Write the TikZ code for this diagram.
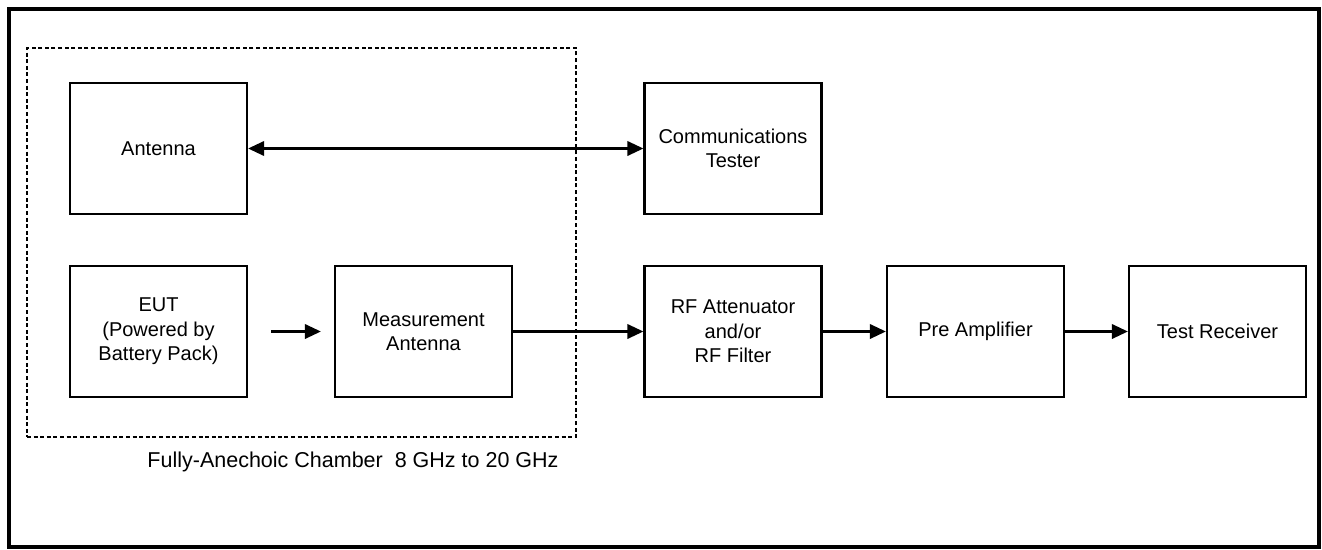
\documentclass[tikz,border=0pt]{standalone}
\usepackage{fontspec}
\setmainfont{Liberation Sans}
\usetikzlibrary{arrows.meta,positioning}
\begin{document}
\begin{tikzpicture}[x=1pt,y=-1pt,
  block/.style={draw=black,line width=2.3pt,minimum width=177pt,minimum height=131pt,
    inner sep=0pt,align=center,font=\fontsize{20}{24.5}\selectfont},
  tip/.tip={Triangle[length=16pt,width=14.5pt]},
  arr/.style={line width=2.2pt,-tip},
  biarr/.style={line width=2.2pt,tip-tip},
  chamberbox/.style={draw=black,line width=2.2pt,dash pattern=on 4pt off 2.6pt,
    minimum width=549pt,minimum height=389pt,inner sep=0pt}]
  \useasboundingbox (0,0) rectangle (1322,549);
  % outer frame
  \draw[line width=4pt] (8.5,8.5) rectangle (1319,547);
  % anechoic chamber outline and caption
  \node[chamberbox] (chamber) at (301.5,242.5) {};
  \node[font=\fontsize{21.5}{24}\selectfont] (chlabel) at (353,462) {Fully-Anechoic Chamber\ \ 8 GHz to 20 GHz};
  % blocks
  \node[block] (ant)  at (158.5,148.5) {Antenna};
  \node[block] (comm) at (733,148.5)   {Communications\\Tester};
  \node[block] (eut)  at (158.5,331.5) {EUT\\(Powered by\\Battery Pack)};
  \node[block] (meas) at (423.5,331.5) {Measurement\\Antenna};
  \node[block] (rf)   at (733,331.5)   {RF Attenuator\\and/or\\RF Filter};
  \node[block] (pre)  at (975.5,331.5) {Pre Amplifier};
  \node[block] (rx)   at (1217.5,331.5){Test Receiver};
  % connections
  \draw[biarr] (ant.east) -- (comm.west);
  \draw[arr] ([xshift=23pt]eut.east) -- ([xshift=-13pt]meas.west);
  \draw[arr] (meas.east) -- (rf.west);
  \draw[arr] (rf.east) -- (pre.west);
  \draw[arr] (pre.east) -- (rx.west);
\end{tikzpicture}
\end{document}
